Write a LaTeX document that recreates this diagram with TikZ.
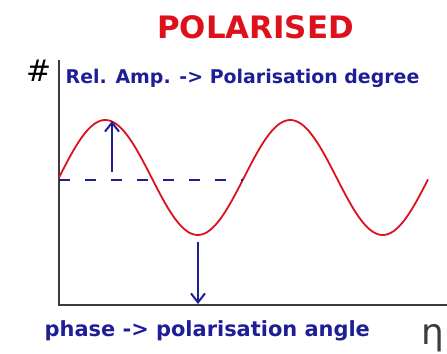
\documentclass[tikz,border=0pt]{standalone}
\usepackage{fontspec}
\setmainfont{DejaVu Sans}
\usetikzlibrary{arrows.meta, positioning, calc}
\definecolor{polred}{RGB}{222,16,28}
\definecolor{polblue}{RGB}{30,30,150}
\definecolor{axgray}{RGB}{60,60,60}

\begin{document}
\begin{tikzpicture}[x=1bp, y=-1bp,
  ax/.style={draw=axgray, line width=2bp},
  wave/.style={draw=polred, line width=1.8bp},
  a/.style={-{Straight Barb[length=9bp, width=14bp]}, line width=2bp, draw=polblue},
  ad/.style={draw=polblue, line width=2bp, dash pattern=on 11bp off 15bp},
  lb/.style={font=\bfseries\fontsize{19}{19}\selectfont, text=polblue, inner sep=0pt, anchor=base west}]
  \useasboundingbox (0,0) rectangle (447,353);

  \node[font=\bfseries\fontsize{31}{31}\selectfont, text=polred, inner sep=0pt, anchor=base]
        (title) at (255.5,38) {POLARISED};

  % axes
  \coordinate (org) at (59,305);
  \coordinate (ytop) at (59,60);
  \coordinate (xend) at (447,305);
  \draw[ax] (ytop) -- (org) -- (xend);
  \node[font=\fontsize{30}{30}\selectfont, inner sep=0pt, anchor=base] (hash) at (39,81) {\#};
  \node[font=\fontsize{36}{36}\selectfont, text=axgray, inner sep=0pt, anchor=base west] (eta) at (421,344) {η};

  % signal, period 185
  \draw[wave, domain=59:428, samples=150, smooth, variable=\t]
        plot (\t, {177.5-57.5*sin(1.94595*(\t-59))});
  \coordinate (mid0) at (59,180);
  \coordinate (mid1) at (243,180);
  \draw[ad] (mid0) -- (mid1);

  \coordinate (ampfoot) at (112,172);
  \coordinate (amptop) at (112,121);
  \draw[a] (ampfoot) -- (amptop);
  \coordinate (phtop) at (198,242);
  \coordinate (phbot) at (198,304);
  \draw[a] (phtop) -- (phbot);

  \node[lb] (amp) at (65.5,83) {Rel. Amp. -> Polarisation degree};
  \node[lb, font=\bfseries\fontsize{21}{21}\selectfont] (phase) at (44.5,336) {phase -> polarisation angle};
\end{tikzpicture}
\end{document}
